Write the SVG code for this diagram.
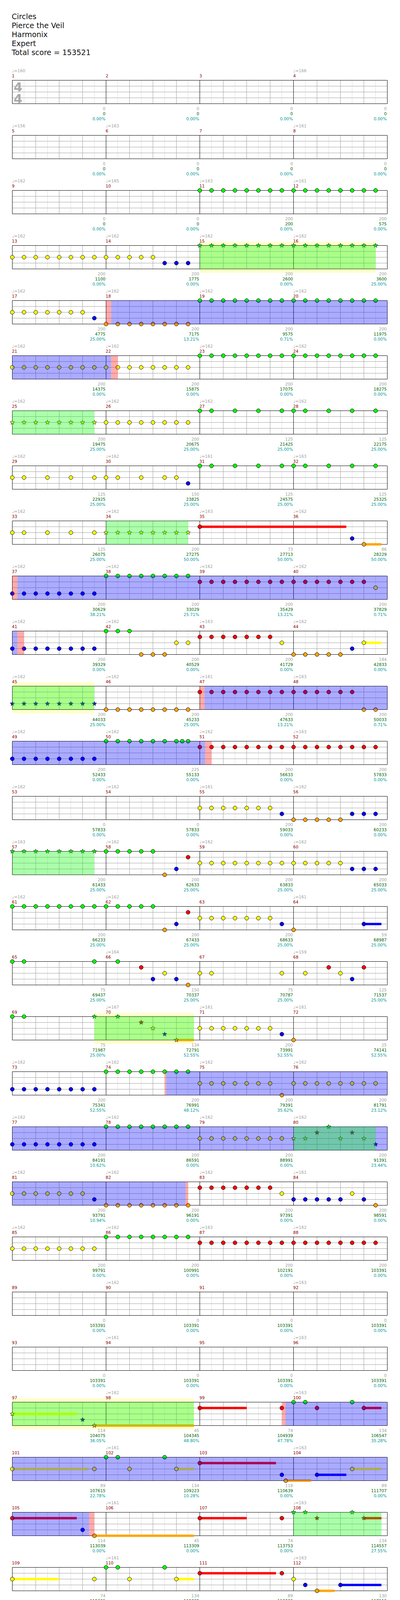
<svg xmlns="http://www.w3.org/2000/svg" xmlns:xlink="http://www.w3.org/1999/xlink" width="1024" height="5563" viewBox="0 0 1024 5563">
<style>
.t{font:19px "DejaVu Sans",sans-serif;fill:#111}
.ts{font:bold 32px "DejaVu Sans",sans-serif;fill:#aaa}
.tp{font:10.5px "DejaVu Sans",sans-serif;fill:#a0a0a0}
.mn{font:10.5px "DejaVu Sans",sans-serif;fill:#8b0000}
.s{font:10.5px "DejaVu Sans",sans-serif;text-anchor:end}
.sa{fill:#a0a0a0}.sb{fill:#006400}.sc{fill:#009999}
.hb{stroke:#dcdcdc;fill:none}
.bt{stroke:#a0a0a0;fill:none}
.ms{stroke:#000;fill:none}
.G{fill:#00ff00}.R{fill:#ff0000}.Y{fill:#ffff00}.B{fill:#0000ff}.O{fill:#ffa500}
.ob{fill:#0000ff;fill-opacity:.33}.og{fill:#00ff00;fill-opacity:.33}.op{fill:#ff0000;fill-opacity:.33}
.yb{fill:#ffffcc}
</style>
<defs>
<circle id="n" r="5" stroke="#000" stroke-width="1"/>
<g id="n2"><use href="#n"/><use href="#n" x="30"/></g>
<g id="n4"><use href="#n2"/><use href="#n2" x="60"/></g>
<g id="n8"><use href="#n4"/><use href="#n4" x="120"/></g>
<g id="n16"><use href="#n8"/><use href="#n8" x="240"/></g>
<path id="s" d="M0,-6L1.41,-1.94L5.71,-1.85L2.28,.74L3.53,4.85L0,2.4L-3.53,4.85L-2.28,.74L-5.71,-1.85L-1.41,-1.94Z" stroke="#000" stroke-width=".8"/>
<g id="s2"><use href="#s"/><use href="#s" x="30"/></g>
<g id="s4"><use href="#s2"/><use href="#s2" x="60"/></g>
<g id="s8"><use href="#s4"/><use href="#s4" x="120"/></g>
<g id="s16"><use href="#s8"/><use href="#s8" x="240"/></g>
<g id="st4">
<path class="hb" d="M61.5 0v60M121.5 0v60M181.5 0v60M241.5 0v60M301.5 0v60M361.5 0v60M421.5 0v60M481.5 0v60M541.5 0v60M601.5 0v60M661.5 0v60M721.5 0v60M781.5 0v60M841.5 0v60M901.5 0v60M961.5 0v60"/>
<path class="bt" d="M31.5 15h960M31.5 30h960M31.5 45h960M91.5 0v60M151.5 0v60M211.5 0v60M331.5 0v60M391.5 0v60M451.5 0v60M571.5 0v60M631.5 0v60M691.5 0v60M811.5 0v60M871.5 0v60M931.5 0v60"/>
<path class="ms" d="M271.5 0v60M511.5 0v60M751.5 0v60M31.5 0h960v60h-960z"/>
</g>
<g id="st3">
<path class="hb" d="M61.5 0v60M121.5 0v60M181.5 0v60M241.5 0v60M301.5 0v60M361.5 0v60M421.5 0v60M481.5 0v60M541.5 0v60M601.5 0v60M661.5 0v60M721.5 0v60"/>
<path class="bt" d="M31.5 15h720M31.5 30h720M31.5 45h720M91.5 0v60M151.5 0v60M211.5 0v60M331.5 0v60M391.5 0v60M451.5 0v60M571.5 0v60M631.5 0v60M691.5 0v60"/>
<path class="ms" d="M271.5 0v60M511.5 0v60M31.5 0h720v60h-720z"/>
</g>
</defs>
<rect width="1024" height="5563" fill="#fff"/>
<g id="title" class="t"><text x="30" y="49">Circles</text><text x="30" y="72">Pierce the Veil</text><text x="30" y="95">Harmonix</text><text x="30" y="118">Expert</text><text x="30" y="141">Total score = 153521</text></g>

<g id="row01" transform="translate(0,205.5)">
<use href="#st4"/>
<text class="ts" x="35" y="28">4</text><text class="ts" x="35" y="58">4</text>
<text class="tp" x="31" y="-20.5">♩=160</text><text class="tp" x="751" y="-20.5">♩=166</text>
<text class="mn" x="30.5" y="-8">1</text><text class="mn" x="270.5" y="-8">2</text><text class="mn" x="510.5" y="-8">3</text><text class="mn" x="750.5" y="-8">4</text>
<text class="s" y="76"><tspan class="sa" x="270">0</tspan><tspan class="sb" x="270" dy="13.5">0</tspan><tspan class="sc" x="270" dy="13">0.00%</tspan></text>
<text class="s" y="76"><tspan class="sa" x="510">0</tspan><tspan class="sb" x="510" dy="13.5">0</tspan><tspan class="sc" x="510" dy="13">0.00%</tspan></text>
<text class="s" y="76"><tspan class="sa" x="750">0</tspan><tspan class="sb" x="750" dy="13.5">0</tspan><tspan class="sc" x="750" dy="13">0.00%</tspan></text>
<text class="s" y="76"><tspan class="sa" x="990">0</tspan><tspan class="sb" x="990" dy="13.5">0</tspan><tspan class="sc" x="990" dy="13">0.00%</tspan></text>
</g>

<g id="row02" transform="translate(0,346.5)">
<use href="#st4"/>
<text class="tp" x="31" y="-20.5">♩=156</text><text class="tp" x="271" y="-20.5">♩=163</text><text class="tp" x="751" y="-20.5">♩=161</text>
<text class="mn" x="30.5" y="-8">5</text><text class="mn" x="270.5" y="-8">6</text><text class="mn" x="510.5" y="-8">7</text><text class="mn" x="750.5" y="-8">8</text>
<text class="s" y="76"><tspan class="sa" x="270">0</tspan><tspan class="sb" x="270" dy="13.5">0</tspan><tspan class="sc" x="270" dy="13">0.00%</tspan></text>
<text class="s" y="76"><tspan class="sa" x="510">0</tspan><tspan class="sb" x="510" dy="13.5">0</tspan><tspan class="sc" x="510" dy="13">0.00%</tspan></text>
<text class="s" y="76"><tspan class="sa" x="750">0</tspan><tspan class="sb" x="750" dy="13.5">0</tspan><tspan class="sc" x="750" dy="13">0.00%</tspan></text>
<text class="s" y="76"><tspan class="sa" x="990">0</tspan><tspan class="sb" x="990" dy="13.5">0</tspan><tspan class="sc" x="990" dy="13">0.00%</tspan></text>
</g>

<g id="row03" transform="translate(0,487.5)">
<use href="#st4"/>
<use href="#n16" class="G" x="511.5"/>
<text class="tp" x="31" y="-20.5">♩=162</text><text class="tp" x="271" y="-20.5">♩=165</text><text class="tp" x="511" y="-20.5">♩=163</text><text class="tp" x="751" y="-20.5">♩=161</text>
<text class="mn" x="30.5" y="-8">9</text><text class="mn" x="270.5" y="-8">10</text><text class="mn" x="510.5" y="-8">11</text><text class="mn" x="750.5" y="-8">12</text>
<text class="s" y="76"><tspan class="sa" x="270">0</tspan><tspan class="sb" x="270" dy="13.5">0</tspan><tspan class="sc" x="270" dy="13">0.00%</tspan></text>
<text class="s" y="76"><tspan class="sa" x="510">0</tspan><tspan class="sb" x="510" dy="13.5">0</tspan><tspan class="sc" x="510" dy="13">0.00%</tspan></text>
<text class="s" y="76"><tspan class="sa" x="750">200</tspan><tspan class="sb" x="750" dy="13.5">200</tspan><tspan class="sc" x="750" dy="13">0.00%</tspan></text>
<text class="s" y="76"><tspan class="sa" x="990">200</tspan><tspan class="sb" x="990" dy="13.5">575</tspan><tspan class="sc" x="990" dy="13">0.00%</tspan></text>
</g>

<g id="row04" transform="translate(0,628.5)">
<rect class="yb" x="511.5" y="-10" width="450" height="80"/>
<use href="#st4"/>
<use href="#n8" class="Y" x="31.5" y="30"/><use href="#n4" class="Y" x="271.5" y="30"/><use href="#n" class="Y" x="391.5" y="30"/>
<use href="#n2" class="B" x="421.5" y="45"/><use href="#n" class="B" x="481.5" y="45"/>
<use href="#s16" class="G" x="511.5"/>
<rect class="og" x="511.5" width="450" height="60"/>
<text class="tp" x="31" y="-20.5">♩=162</text><text class="tp" x="271" y="-20.5">♩=162</text><text class="tp" x="511" y="-20.5">♩=162</text><text class="tp" x="751" y="-20.5">♩=162</text>
<text class="mn" x="30.5" y="-8">13</text><text class="mn" x="270.5" y="-8">14</text><text class="mn" x="510.5" y="-8">15</text><text class="mn" x="750.5" y="-8">16</text>
<text class="s" y="76"><tspan class="sa" x="270">200</tspan><tspan class="sb" x="270" dy="13.5">1100</tspan><tspan class="sc" x="270" dy="13">0.00%</tspan></text>
<text class="s" y="76"><tspan class="sa" x="510">200</tspan><tspan class="sb" x="510" dy="13.5">1775</tspan><tspan class="sc" x="510" dy="13">0.00%</tspan></text>
<text class="s" y="76"><tspan class="sa" x="750">200</tspan><tspan class="sb" x="750" dy="13.5">2600</tspan><tspan class="sc" x="750" dy="13">0.00%</tspan></text>
<text class="s" y="76"><tspan class="sa" x="990">200</tspan><tspan class="sb" x="990" dy="13.5">3600</tspan><tspan class="sc" x="990" dy="13">25.00%</tspan></text>
</g>

<g id="row05" transform="translate(0,769.5)">
<use href="#st4"/>
<use href="#n4" class="Y" x="31.5" y="30"/><use href="#n2" class="Y" x="151.5" y="30"/><use href="#n" class="Y" x="211.5" y="30"/>
<use href="#n" class="B" x="241.5" y="45"/>
<use href="#n8" class="O" x="271.5" y="60"/>
<use href="#n16" class="G" x="511.5"/>
<rect class="op" x="271.5" width="13" height="60"/><rect class="ob" x="284.5" width="707" height="60"/>
<text class="tp" x="31" y="-20.5">♩=162</text><text class="tp" x="271" y="-20.5">♩=162</text><text class="tp" x="511" y="-20.5">♩=162</text><text class="tp" x="751" y="-20.5">♩=162</text>
<text class="mn" x="30.5" y="-8">17</text><text class="mn" x="270.5" y="-8">18</text><text class="mn" x="510.5" y="-8">19</text><text class="mn" x="750.5" y="-8">20</text>
<text class="s" y="76"><tspan class="sa" x="270">200</tspan><tspan class="sb" x="270" dy="13.5">4775</tspan><tspan class="sc" x="270" dy="13">25.00%</tspan></text>
<text class="s" y="76"><tspan class="sa" x="510">200</tspan><tspan class="sb" x="510" dy="13.5">7175</tspan><tspan class="sc" x="510" dy="13">13.21%</tspan></text>
<text class="s" y="76"><tspan class="sa" x="750">200</tspan><tspan class="sb" x="750" dy="13.5">9575</tspan><tspan class="sc" x="750" dy="13">0.71%</tspan></text>
<text class="s" y="76"><tspan class="sa" x="990">200</tspan><tspan class="sb" x="990" dy="13.5">11975</tspan><tspan class="sc" x="990" dy="13">0.00%</tspan></text>
</g>

<g id="row06" transform="translate(0,910.5)">
<use href="#st4"/>
<use href="#n16" class="Y" x="31.5" y="30"/><use href="#n16" class="G" x="511.5"/>
<rect class="ob" x="31.5" width="253" height="60"/><rect class="op" x="284.5" width="17" height="60"/>
<text class="tp" x="31" y="-20.5">♩=162</text><text class="tp" x="271" y="-20.5">♩=162</text><text class="tp" x="511" y="-20.5">♩=162</text><text class="tp" x="751" y="-20.5">♩=162</text>
<text class="mn" x="30.5" y="-8">21</text><text class="mn" x="270.5" y="-8">22</text><text class="mn" x="510.5" y="-8">23</text><text class="mn" x="750.5" y="-8">24</text>
<text class="s" y="76"><tspan class="sa" x="270">200</tspan><tspan class="sb" x="270" dy="13.5">14375</tspan><tspan class="sc" x="270" dy="13">0.00%</tspan></text>
<text class="s" y="76"><tspan class="sa" x="510">200</tspan><tspan class="sb" x="510" dy="13.5">15875</tspan><tspan class="sc" x="510" dy="13">0.00%</tspan></text>
<text class="s" y="76"><tspan class="sa" x="750">200</tspan><tspan class="sb" x="750" dy="13.5">17075</tspan><tspan class="sc" x="750" dy="13">0.00%</tspan></text>
<text class="s" y="76"><tspan class="sa" x="990">200</tspan><tspan class="sb" x="990" dy="13.5">18275</tspan><tspan class="sc" x="990" dy="13">0.00%</tspan></text>
</g>

<g id="row07" transform="translate(0,1051.5)">
<use href="#st4"/>
<use href="#s8" class="Y" x="31.5" y="30"/><use href="#n8" class="Y" x="271.5" y="30"/>
<use href="#n2" class="G" x="511.5"/><use href="#n" class="G" x="601.5"/><use href="#n" class="G" x="661.5"/><use href="#n2" class="G" x="721.5"/><use href="#n" class="G" x="781.5"/><use href="#n" class="G" x="841.5"/><use href="#n" class="G" x="901.5"/><use href="#n" class="G" x="961.5"/>
<rect class="og" x="31.5" width="210" height="60"/>
<text class="tp" x="31" y="-20.5">♩=162</text><text class="tp" x="271" y="-20.5">♩=162</text><text class="tp" x="511" y="-20.5">♩=162</text><text class="tp" x="751" y="-20.5">♩=162</text>
<text class="mn" x="30.5" y="-8">25</text><text class="mn" x="270.5" y="-8">26</text><text class="mn" x="510.5" y="-8">27</text><text class="mn" x="750.5" y="-8">28</text>
<text class="s" y="76"><tspan class="sa" x="270">200</tspan><tspan class="sb" x="270" dy="13.5">19475</tspan><tspan class="sc" x="270" dy="13">25.00%</tspan></text>
<text class="s" y="76"><tspan class="sa" x="510">200</tspan><tspan class="sb" x="510" dy="13.5">20675</tspan><tspan class="sc" x="510" dy="13">25.00%</tspan></text>
<text class="s" y="76"><tspan class="sa" x="750">125</tspan><tspan class="sb" x="750" dy="13.5">21425</tspan><tspan class="sc" x="750" dy="13">25.00%</tspan></text>
<text class="s" y="76"><tspan class="sa" x="990">125</tspan><tspan class="sb" x="990" dy="13.5">22175</tspan><tspan class="sc" x="990" dy="13">25.00%</tspan></text>
</g>

<g id="row08" transform="translate(0,1192.5)">
<use href="#st4"/>
<use href="#n2" class="Y" x="31.5" y="30"/><use href="#n" class="Y" x="121.5" y="30"/><use href="#n" class="Y" x="181.5" y="30"/><use href="#n2" class="Y" x="241.5" y="30"/><use href="#n" class="Y" x="301.5" y="30"/><use href="#n" class="Y" x="361.5" y="30"/><use href="#n2" class="Y" x="421.5" y="30"/>
<use href="#n" class="B" x="481.5" y="45"/>
<use href="#n2" class="G" x="511.5"/><use href="#n" class="G" x="601.5"/><use href="#n" class="G" x="661.5"/><use href="#n2" class="G" x="721.5"/><use href="#n" class="G" x="781.5"/><use href="#n" class="G" x="841.5"/><use href="#n" class="G" x="901.5"/><use href="#n" class="G" x="961.5"/>
<text class="tp" x="31" y="-20.5">♩=162</text><text class="tp" x="271" y="-20.5">♩=162</text><text class="tp" x="511" y="-20.5">♩=161</text><text class="tp" x="751" y="-20.5">♩=163</text>
<text class="mn" x="30.5" y="-8">29</text><text class="mn" x="270.5" y="-8">30</text><text class="mn" x="510.5" y="-8">31</text><text class="mn" x="750.5" y="-8">32</text>
<text class="s" y="76"><tspan class="sa" x="270">125</tspan><tspan class="sb" x="270" dy="13.5">22925</tspan><tspan class="sc" x="270" dy="13">25.00%</tspan></text>
<text class="s" y="76"><tspan class="sa" x="510">150</tspan><tspan class="sb" x="510" dy="13.5">23825</tspan><tspan class="sc" x="510" dy="13">25.00%</tspan></text>
<text class="s" y="76"><tspan class="sa" x="750">125</tspan><tspan class="sb" x="750" dy="13.5">24575</tspan><tspan class="sc" x="750" dy="13">25.00%</tspan></text>
<text class="s" y="76"><tspan class="sa" x="990">125</tspan><tspan class="sb" x="990" dy="13.5">25325</tspan><tspan class="sc" x="990" dy="13">25.00%</tspan></text>
</g>

<g id="row09" transform="translate(0,1333.5)">
<use href="#st4"/>
<use href="#n2" class="Y" x="31.5" y="30"/><use href="#n" class="Y" x="121.5" y="30"/><use href="#n" class="Y" x="181.5" y="30"/><use href="#n" class="Y" x="241.5" y="30"/>
<use href="#s8" class="Y" x="271.5" y="30"/>
<rect class="R" x="511.5" y="12" width="375" height="6"/><use href="#n" class="R" x="511.5" y="15"/>
<use href="#n" class="B" x="901.5" y="45"/>
<rect class="O" x="931.5" y="57" width="45" height="6"/><use href="#n" class="O" x="931.5" y="60"/>
<rect class="og" x="271.5" width="210" height="60"/>
<text class="tp" x="31" y="-20.5">♩=162</text><text class="tp" x="271" y="-20.5">♩=162</text><text class="tp" x="511" y="-20.5">♩=163</text><text class="tp" x="751" y="-20.5">♩=162</text>
<text class="mn" x="30.5" y="-8">33</text><text class="mn" x="270.5" y="-8">34</text><text class="mn" x="510.5" y="-8">35</text><text class="mn" x="750.5" y="-8">36</text>
<text class="s" y="76"><tspan class="sa" x="270">125</tspan><tspan class="sb" x="270" dy="13.5">26075</tspan><tspan class="sc" x="270" dy="13">25.00%</tspan></text>
<text class="s" y="76"><tspan class="sa" x="510">200</tspan><tspan class="sb" x="510" dy="13.5">27275</tspan><tspan class="sc" x="510" dy="13">50.00%</tspan></text>
<text class="s" y="76"><tspan class="sa" x="750">73</tspan><tspan class="sb" x="750" dy="13.5">27713</tspan><tspan class="sc" x="750" dy="13">50.00%</tspan></text>
<text class="s" y="76"><tspan class="sa" x="990">86</tspan><tspan class="sb" x="990" dy="13.5">28229</tspan><tspan class="sc" x="990" dy="13">50.00%</tspan></text>
</g>

<g id="row10" transform="translate(0,1474.5)">
<use href="#st4"/>
<use href="#n8" class="B" x="31.5" y="45"/><use href="#n8" class="G" x="271.5"/>
<use href="#n8" class="R" x="511.5" y="15"/><use href="#n4" class="R" x="751.5" y="15"/><use href="#n2" class="R" x="871.5" y="15"/><use href="#n" class="R" x="931.5" y="15"/>
<use href="#n" class="Y" x="961.5" y="30"/>
<rect class="op" x="31.5" width="13" height="60"/><rect class="ob" x="44.5" width="947" height="60"/>
<text class="tp" x="31" y="-20.5">♩=162</text><text class="tp" x="271" y="-20.5">♩=162</text><text class="tp" x="511" y="-20.5">♩=162</text><text class="tp" x="751" y="-20.5">♩=162</text>
<text class="mn" x="30.5" y="-8">37</text><text class="mn" x="270.5" y="-8">38</text><text class="mn" x="510.5" y="-8">39</text><text class="mn" x="750.5" y="-8">40</text>
<text class="s" y="76"><tspan class="sa" x="270">200</tspan><tspan class="sb" x="270" dy="13.5">30629</tspan><tspan class="sc" x="270" dy="13">38.21%</tspan></text>
<text class="s" y="76"><tspan class="sa" x="510">200</tspan><tspan class="sb" x="510" dy="13.5">33029</tspan><tspan class="sc" x="510" dy="13">25.71%</tspan></text>
<text class="s" y="76"><tspan class="sa" x="750">200</tspan><tspan class="sb" x="750" dy="13.5">35429</tspan><tspan class="sc" x="750" dy="13">13.21%</tspan></text>
<text class="s" y="76"><tspan class="sa" x="990">200</tspan><tspan class="sb" x="990" dy="13.5">37829</tspan><tspan class="sc" x="990" dy="13">0.71%</tspan></text>
</g>

<g id="row11" transform="translate(0,1615.5)">
<use href="#st4"/>
<use href="#n8" class="B" x="31.5" y="45"/>
<use href="#n2" class="G" x="271.5"/><use href="#n" class="G" x="331.5"/>
<use href="#n2" class="O" x="361.5" y="60"/><use href="#n" class="O" x="421.5" y="60"/>
<use href="#n2" class="Y" x="451.5" y="30"/>
<use href="#n4" class="R" x="511.5" y="15"/><use href="#n2" class="R" x="631.5" y="15"/><use href="#n" class="R" x="691.5" y="15"/>
<use href="#n" class="Y" x="721.5" y="30"/>
<use href="#n4" class="O" x="751.5" y="60"/><use href="#n" class="O" x="871.5" y="60"/>
<use href="#n" class="B" x="901.5" y="45"/>
<rect class="Y" x="931.5" y="27" width="45" height="6"/><use href="#n" class="Y" x="931.5" y="30"/>
<rect class="ob" x="31.5" width="13" height="60"/><rect class="op" x="44.5" width="17" height="60"/>
<text class="tp" x="31" y="-20.5">♩=162</text><text class="tp" x="271" y="-20.5">♩=162</text><text class="tp" x="511" y="-20.5">♩=163</text><text class="tp" x="751" y="-20.5">♩=162</text>
<text class="mn" x="30.5" y="-8">41</text><text class="mn" x="270.5" y="-8">42</text><text class="mn" x="510.5" y="-8">43</text><text class="mn" x="750.5" y="-8">44</text>
<text class="s" y="76"><tspan class="sa" x="270">200</tspan><tspan class="sb" x="270" dy="13.5">39329</tspan><tspan class="sc" x="270" dy="13">0.00%</tspan></text>
<text class="s" y="76"><tspan class="sa" x="510">200</tspan><tspan class="sb" x="510" dy="13.5">40529</tspan><tspan class="sc" x="510" dy="13">0.00%</tspan></text>
<text class="s" y="76"><tspan class="sa" x="750">200</tspan><tspan class="sb" x="750" dy="13.5">41729</tspan><tspan class="sc" x="750" dy="13">0.00%</tspan></text>
<text class="s" y="76"><tspan class="sa" x="990">184</tspan><tspan class="sb" x="990" dy="13.5">42833</tspan><tspan class="sc" x="990" dy="13">0.00%</tspan></text>
</g>

<g id="row12" transform="translate(0,1756.5)">
<rect class="yb" x="31.5" y="-10" width="210" height="80"/>
<use href="#st4"/>
<use href="#s8" class="B" x="31.5" y="45"/><use href="#n8" class="O" x="271.5" y="60"/>
<use href="#n8" class="R" x="511.5" y="15"/><use href="#n4" class="R" x="751.5" y="15"/><use href="#n2" class="R" x="871.5" y="15"/>
<use href="#n2" class="O" x="931.5" y="60"/>
<rect class="og" x="31.5" width="210" height="60"/><rect class="op" x="511.5" width="12" height="60"/><rect class="ob" x="523.5" width="468" height="60"/>
<text class="tp" x="31" y="-20.5">♩=162</text><text class="tp" x="271" y="-20.5">♩=162</text><text class="tp" x="511" y="-20.5">♩=161</text><text class="tp" x="751" y="-20.5">♩=163</text>
<text class="mn" x="30.5" y="-8">45</text><text class="mn" x="270.5" y="-8">46</text><text class="mn" x="510.5" y="-8">47</text><text class="mn" x="750.5" y="-8">48</text>
<text class="s" y="76"><tspan class="sa" x="270">200</tspan><tspan class="sb" x="270" dy="13.5">44033</tspan><tspan class="sc" x="270" dy="13">25.00%</tspan></text>
<text class="s" y="76"><tspan class="sa" x="510">200</tspan><tspan class="sb" x="510" dy="13.5">45233</tspan><tspan class="sc" x="510" dy="13">25.00%</tspan></text>
<text class="s" y="76"><tspan class="sa" x="750">200</tspan><tspan class="sb" x="750" dy="13.5">47633</tspan><tspan class="sc" x="750" dy="13">13.21%</tspan></text>
<text class="s" y="76"><tspan class="sa" x="990">200</tspan><tspan class="sb" x="990" dy="13.5">50033</tspan><tspan class="sc" x="990" dy="13">0.71%</tspan></text>
</g>

<g id="row13" transform="translate(0,1897.5)">
<use href="#st4"/>
<use href="#n8" class="B" x="31.5" y="45"/>
<use href="#n4" class="G" x="271.5"/><use href="#n2" class="G" x="391.5"/><use href="#n" class="G" x="451.5"/><use href="#n" class="G" x="466.5"/><use href="#n" class="G" x="481.5"/>
<use href="#n16" class="R" x="511.5" y="15"/>
<rect class="ob" x="31.5" width="493.5" height="60"/><rect class="op" x="525" width="16.5" height="60"/>
<text class="tp" x="31" y="-20.5">♩=162</text><text class="tp" x="271" y="-20.5">♩=162</text><text class="tp" x="511" y="-20.5">♩=162</text><text class="tp" x="751" y="-20.5">♩=163</text>
<text class="mn" x="30.5" y="-8">49</text><text class="mn" x="270.5" y="-8">50</text><text class="mn" x="510.5" y="-8">51</text><text class="mn" x="750.5" y="-8">52</text>
<text class="s" y="76"><tspan class="sa" x="270">200</tspan><tspan class="sb" x="270" dy="13.5">52433</tspan><tspan class="sc" x="270" dy="13">0.00%</tspan></text>
<text class="s" y="76"><tspan class="sa" x="510">225</tspan><tspan class="sb" x="510" dy="13.5">55133</tspan><tspan class="sc" x="510" dy="13">0.00%</tspan></text>
<text class="s" y="76"><tspan class="sa" x="750">200</tspan><tspan class="sb" x="750" dy="13.5">56633</tspan><tspan class="sc" x="750" dy="13">0.00%</tspan></text>
<text class="s" y="76"><tspan class="sa" x="990">200</tspan><tspan class="sb" x="990" dy="13.5">57833</tspan><tspan class="sc" x="990" dy="13">0.00%</tspan></text>
</g>

<g id="row14" transform="translate(0,2038.5)">
<use href="#st4"/>
<use href="#n4" class="Y" x="511.5" y="30"/><use href="#n2" class="Y" x="631.5" y="30"/><use href="#n" class="Y" x="691.5" y="30"/>
<use href="#n" class="B" x="721.5" y="45"/>
<use href="#n4" class="O" x="751.5" y="60"/><use href="#n" class="O" x="871.5" y="60"/>
<use href="#n2" class="B" x="901.5" y="45"/><use href="#n" class="B" x="961.5" y="45"/>
<text class="tp" x="31" y="-20.5">♩=162</text><text class="tp" x="271" y="-20.5">♩=162</text><text class="tp" x="511" y="-20.5">♩=161</text><text class="tp" x="751" y="-20.5">♩=162</text>
<text class="mn" x="30.5" y="-8">53</text><text class="mn" x="270.5" y="-8">54</text><text class="mn" x="510.5" y="-8">55</text><text class="mn" x="750.5" y="-8">56</text>
<text class="s" y="76"><tspan class="sa" x="270">0</tspan><tspan class="sb" x="270" dy="13.5">57833</tspan><tspan class="sc" x="270" dy="13">0.00%</tspan></text>
<text class="s" y="76"><tspan class="sa" x="510">0</tspan><tspan class="sb" x="510" dy="13.5">57833</tspan><tspan class="sc" x="510" dy="13">0.00%</tspan></text>
<text class="s" y="76"><tspan class="sa" x="750">200</tspan><tspan class="sb" x="750" dy="13.5">59033</tspan><tspan class="sc" x="750" dy="13">0.00%</tspan></text>
<text class="s" y="76"><tspan class="sa" x="990">200</tspan><tspan class="sb" x="990" dy="13.5">60233</tspan><tspan class="sc" x="990" dy="13">0.00%</tspan></text>
</g>

<g id="row15" transform="translate(0,2179.5)">
<use href="#st4"/>
<use href="#s8" class="G" x="31.5"/>
<use href="#n4" class="G" x="271.5"/><use href="#n" class="G" x="391.5"/>
<use href="#n" class="O" x="421.5" y="60"/><use href="#n" class="B" x="451.5" y="45"/><use href="#n" class="R" x="481.5" y="15"/>
<use href="#n8" class="Y" x="511.5" y="30"/><use href="#n4" class="Y" x="751.5" y="30"/><use href="#n" class="Y" x="871.5" y="30"/>
<use href="#n2" class="B" x="901.5" y="45"/><use href="#n" class="B" x="961.5" y="45"/>
<rect class="og" x="31.5" width="210" height="60"/>
<text class="tp" x="31" y="-20.5">♩=163</text><text class="tp" x="271" y="-20.5">♩=162</text><text class="tp" x="511" y="-20.5">♩=162</text><text class="tp" x="751" y="-20.5">♩=162</text>
<text class="mn" x="30.5" y="-8">57</text><text class="mn" x="270.5" y="-8">58</text><text class="mn" x="510.5" y="-8">59</text><text class="mn" x="750.5" y="-8">60</text>
<text class="s" y="76"><tspan class="sa" x="270">200</tspan><tspan class="sb" x="270" dy="13.5">61433</tspan><tspan class="sc" x="270" dy="13">25.00%</tspan></text>
<text class="s" y="76"><tspan class="sa" x="510">200</tspan><tspan class="sb" x="510" dy="13.5">62633</tspan><tspan class="sc" x="510" dy="13">25.00%</tspan></text>
<text class="s" y="76"><tspan class="sa" x="750">200</tspan><tspan class="sb" x="750" dy="13.5">63833</tspan><tspan class="sc" x="750" dy="13">25.00%</tspan></text>
<text class="s" y="76"><tspan class="sa" x="990">200</tspan><tspan class="sb" x="990" dy="13.5">65033</tspan><tspan class="sc" x="990" dy="13">25.00%</tspan></text>
</g>

<g id="row16" transform="translate(0,2320.5)">
<use href="#st4"/>
<use href="#n8" class="G" x="31.5"/><use href="#n4" class="G" x="271.5"/><use href="#n" class="G" x="391.5"/>
<use href="#n" class="O" x="421.5" y="60"/><use href="#n" class="B" x="451.5" y="45"/><use href="#n" class="R" x="481.5" y="15"/>
<use href="#n4" class="Y" x="511.5" y="30"/><use href="#n2" class="Y" x="631.5" y="30"/><use href="#n" class="Y" x="691.5" y="30"/>
<use href="#n" class="B" x="721.5" y="45"/><use href="#n" class="O" x="751.5" y="60"/>
<rect class="B" x="931.5" y="42" width="45" height="6"/><use href="#n" class="B" x="931.5" y="45"/>
<text class="tp" x="31" y="-20.5">♩=162</text><text class="tp" x="271" y="-20.5">♩=162</text><text class="tp" x="751" y="-20.5">♩=161</text>
<text class="mn" x="30.5" y="-8">61</text><text class="mn" x="270.5" y="-8">62</text><text class="mn" x="510.5" y="-8">63</text><text class="mn" x="750.5" y="-8">64</text>
<text class="s" y="76"><tspan class="sa" x="270">200</tspan><tspan class="sb" x="270" dy="13.5">66233</tspan><tspan class="sc" x="270" dy="13">25.00%</tspan></text>
<text class="s" y="76"><tspan class="sa" x="510">200</tspan><tspan class="sb" x="510" dy="13.5">67433</tspan><tspan class="sc" x="510" dy="13">25.00%</tspan></text>
<text class="s" y="76"><tspan class="sa" x="750">200</tspan><tspan class="sb" x="750" dy="13.5">68633</tspan><tspan class="sc" x="750" dy="13">25.00%</tspan></text>
<text class="s" y="76"><tspan class="sa" x="990">59</tspan><tspan class="sb" x="990" dy="13.5">68987</tspan><tspan class="sc" x="990" dy="13">25.00%</tspan></text>
</g>

<g id="row17" transform="translate(0,2461.5)">
<use href="#st4"/>
<use href="#n2" class="G" x="31.5"/><use href="#n" class="G" x="241.5"/><use href="#n" class="G" x="301.5"/>
<use href="#n" class="R" x="361.5" y="15"/><use href="#n" class="B" x="391.5" y="45"/><use href="#n" class="Y" x="421.5" y="30"/><use href="#n" class="B" x="451.5" y="45"/><use href="#n" class="O" x="481.5" y="60"/>
<use href="#n2" class="Y" x="511.5" y="30"/><use href="#n" class="Y" x="721.5" y="30"/><use href="#n" class="Y" x="781.5" y="30"/>
<use href="#n" class="R" x="841.5" y="15"/><use href="#n" class="Y" x="871.5" y="30"/><use href="#n" class="B" x="901.5" y="45"/><use href="#n" class="R" x="931.5" y="15"/>
<text class="tp" x="271" y="-20.5">♩=164</text><text class="tp" x="751" y="-20.5">♩=159</text>
<text class="mn" x="30.5" y="-8">65</text><text class="mn" x="270.5" y="-8">66</text><text class="mn" x="510.5" y="-8">67</text><text class="mn" x="750.5" y="-8">68</text>
<text class="s" y="76"><tspan class="sa" x="270">75</tspan><tspan class="sb" x="270" dy="13.5">69437</tspan><tspan class="sc" x="270" dy="13">25.00%</tspan></text>
<text class="s" y="76"><tspan class="sa" x="510">150</tspan><tspan class="sb" x="510" dy="13.5">70337</tspan><tspan class="sc" x="510" dy="13">25.00%</tspan></text>
<text class="s" y="76"><tspan class="sa" x="750">75</tspan><tspan class="sb" x="750" dy="13.5">70787</tspan><tspan class="sc" x="750" dy="13">25.00%</tspan></text>
<text class="s" y="76"><tspan class="sa" x="990">125</tspan><tspan class="sb" x="990" dy="13.5">71537</tspan><tspan class="sc" x="990" dy="13">25.00%</tspan></text>
</g>

<g id="row18" transform="translate(0,2602.5)">
<rect class="yb" x="241.5" y="-10" width="255" height="80"/>
<use href="#st4"/>
<use href="#n2" class="G" x="31.5"/>
<use href="#s" class="G" x="241.5"/><use href="#s" class="G" x="301.5"/><use href="#s" class="R" x="361.5" y="15"/><use href="#s" class="Y" x="391.5" y="30"/><use href="#s" class="B" x="421.5" y="45"/>
<rect class="O" x="451.5" y="57" width="45" height="6"/><use href="#s" class="O" x="451.5" y="60"/>
<use href="#n4" class="Y" x="511.5" y="30"/><use href="#n2" class="Y" x="631.5" y="30"/><use href="#n" class="Y" x="691.5" y="30"/>
<use href="#n" class="B" x="721.5" y="45"/><use href="#n" class="O" x="751.5" y="60"/>
<rect class="og" x="241.5" width="255" height="60"/>
<text class="tp" x="271" y="-20.5">♩=167</text><text class="tp" x="511" y="-20.5">♩=161</text><text class="tp" x="751" y="-20.5">♩=161</text>
<text class="mn" x="30.5" y="-8">69</text><text class="mn" x="270.5" y="-8">70</text><text class="mn" x="510.5" y="-8">71</text><text class="mn" x="750.5" y="-8">72</text>
<text class="s" y="76"><tspan class="sa" x="270">75</tspan><tspan class="sb" x="270" dy="13.5">71987</tspan><tspan class="sc" x="270" dy="13">25.00%</tspan></text>
<text class="s" y="76"><tspan class="sa" x="510">134</tspan><tspan class="sb" x="510" dy="13.5">72791</tspan><tspan class="sc" x="510" dy="13">52.55%</tspan></text>
<text class="s" y="76"><tspan class="sa" x="750">200</tspan><tspan class="sb" x="750" dy="13.5">73991</tspan><tspan class="sc" x="750" dy="13">52.55%</tspan></text>
<text class="s" y="76"><tspan class="sa" x="990">25</tspan><tspan class="sb" x="990" dy="13.5">74141</tspan><tspan class="sc" x="990" dy="13">52.55%</tspan></text>
</g>

<g id="row19" transform="translate(0,2743.5)">
<use href="#st4"/>
<use href="#n8" class="B" x="31.5" y="45"/><use href="#n8" class="G" x="271.5"/>
<use href="#n4" class="Y" x="511.5" y="30"/><use href="#n2" class="Y" x="631.5" y="30"/><use href="#n" class="Y" x="691.5" y="30"/>
<use href="#n" class="O" x="721.5" y="60"/><use href="#n8" class="Y" x="751.5" y="30"/>
<rect class="op" x="421.5" width="4" height="60"/><rect class="ob" x="425.5" width="566" height="60"/>
<text class="tp" x="31" y="-20.5">♩=162</text><text class="tp" x="271" y="-20.5">♩=162</text><text class="tp" x="511" y="-20.5">♩=162</text><text class="tp" x="751" y="-20.5">♩=162</text>
<text class="mn" x="30.5" y="-8">73</text><text class="mn" x="270.5" y="-8">74</text><text class="mn" x="510.5" y="-8">75</text><text class="mn" x="750.5" y="-8">76</text>
<text class="s" y="76"><tspan class="sa" x="270">200</tspan><tspan class="sb" x="270" dy="13.5">75341</tspan><tspan class="sc" x="270" dy="13">52.55%</tspan></text>
<text class="s" y="76"><tspan class="sa" x="510">200</tspan><tspan class="sb" x="510" dy="13.5">76991</tspan><tspan class="sc" x="510" dy="13">48.12%</tspan></text>
<text class="s" y="76"><tspan class="sa" x="750">200</tspan><tspan class="sb" x="750" dy="13.5">79391</tspan><tspan class="sc" x="750" dy="13">35.62%</tspan></text>
<text class="s" y="76"><tspan class="sa" x="990">200</tspan><tspan class="sb" x="990" dy="13.5">81791</tspan><tspan class="sc" x="990" dy="13">23.12%</tspan></text>
</g>

<g id="row20" transform="translate(0,2884.5)">
<use href="#st4"/>
<use href="#n8" class="B" x="31.5" y="45"/><use href="#n8" class="G" x="271.5"/><use href="#n8" class="Y" x="511.5" y="30"/>
<use href="#s2" class="Y" x="751.5" y="30"/><use href="#s" class="R" x="811.5" y="15"/><use href="#s" class="G" x="841.5"/><use href="#s" class="Y" x="871.5" y="30"/><use href="#s" class="R" x="901.5" y="15"/><use href="#s" class="Y" x="931.5" y="30"/><use href="#s" class="B" x="961.5" y="45"/>
<rect class="ob" x="31.5" width="960" height="60"/><rect class="og" x="751.5" width="210" height="60"/>
<text class="tp" x="31" y="-20.5">♩=162</text><text class="tp" x="271" y="-20.5">♩=162</text><text class="tp" x="511" y="-20.5">♩=162</text><text class="tp" x="751" y="-20.5">♩=162</text>
<text class="mn" x="30.5" y="-8">77</text><text class="mn" x="270.5" y="-8">78</text><text class="mn" x="510.5" y="-8">79</text><text class="mn" x="750.5" y="-8">80</text>
<text class="s" y="76"><tspan class="sa" x="270">200</tspan><tspan class="sb" x="270" dy="13.5">84191</tspan><tspan class="sc" x="270" dy="13">10.62%</tspan></text>
<text class="s" y="76"><tspan class="sa" x="510">200</tspan><tspan class="sb" x="510" dy="13.5">86591</tspan><tspan class="sc" x="510" dy="13">0.00%</tspan></text>
<text class="s" y="76"><tspan class="sa" x="750">200</tspan><tspan class="sb" x="750" dy="13.5">88991</tspan><tspan class="sc" x="750" dy="13">0.00%</tspan></text>
<text class="s" y="76"><tspan class="sa" x="990">200</tspan><tspan class="sb" x="990" dy="13.5">91391</tspan><tspan class="sc" x="990" dy="13">23.44%</tspan></text>
</g>

<g id="row21" transform="translate(0,3025.5)">
<use href="#st4"/>
<use href="#n4" class="Y" x="31.5" y="30"/><use href="#n2" class="Y" x="151.5" y="30"/><use href="#n" class="Y" x="211.5" y="30"/>
<use href="#n" class="B" x="241.5" y="45"/><use href="#n8" class="O" x="271.5" y="60"/>
<use href="#n4" class="R" x="511.5" y="15"/><use href="#n2" class="R" x="631.5" y="15"/><use href="#n" class="R" x="691.5" y="15"/>
<use href="#n" class="Y" x="721.5" y="30"/>
<use href="#n4" class="B" x="751.5" y="45"/><use href="#n" class="B" x="871.5" y="45"/>
<use href="#n" class="Y" x="901.5" y="30"/><use href="#n" class="B" x="931.5" y="45"/><use href="#n" class="O" x="961.5" y="60"/>
<rect class="ob" x="31.5" width="443.5" height="60"/><rect class="op" x="475" width="6.5" height="60"/>
<text class="tp" x="31" y="-20.5">♩=162</text><text class="tp" x="271" y="-20.5">♩=162</text><text class="tp" x="511" y="-20.5">♩=162</text><text class="tp" x="751" y="-20.5">♩=161</text>
<text class="mn" x="30.5" y="-8">81</text><text class="mn" x="270.5" y="-8">82</text><text class="mn" x="510.5" y="-8">83</text><text class="mn" x="750.5" y="-8">84</text>
<text class="s" y="76"><tspan class="sa" x="270">200</tspan><tspan class="sb" x="270" dy="13.5">93791</tspan><tspan class="sc" x="270" dy="13">10.94%</tspan></text>
<text class="s" y="76"><tspan class="sa" x="510">200</tspan><tspan class="sb" x="510" dy="13.5">96191</tspan><tspan class="sc" x="510" dy="13">0.00%</tspan></text>
<text class="s" y="76"><tspan class="sa" x="750">200</tspan><tspan class="sb" x="750" dy="13.5">97391</tspan><tspan class="sc" x="750" dy="13">0.00%</tspan></text>
<text class="s" y="76"><tspan class="sa" x="990">200</tspan><tspan class="sb" x="990" dy="13.5">98591</tspan><tspan class="sc" x="990" dy="13">0.00%</tspan></text>
</g>

<g id="row22" transform="translate(0,3166.5)">
<use href="#st4"/>
<use href="#n8" class="Y" x="31.5" y="30"/><use href="#n8" class="G" x="271.5"/><use href="#n16" class="R" x="511.5" y="15"/>
<text class="tp" x="31" y="-20.5">♩=162</text><text class="tp" x="271" y="-20.5">♩=162</text><text class="tp" x="511" y="-20.5">♩=163</text><text class="tp" x="751" y="-20.5">♩=162</text>
<text class="mn" x="30.5" y="-8">85</text><text class="mn" x="270.5" y="-8">86</text><text class="mn" x="510.5" y="-8">87</text><text class="mn" x="750.5" y="-8">88</text>
<text class="s" y="76"><tspan class="sa" x="270">200</tspan><tspan class="sb" x="270" dy="13.5">99791</tspan><tspan class="sc" x="270" dy="13">0.00%</tspan></text>
<text class="s" y="76"><tspan class="sa" x="510">200</tspan><tspan class="sb" x="510" dy="13.5">100991</tspan><tspan class="sc" x="510" dy="13">0.00%</tspan></text>
<text class="s" y="76"><tspan class="sa" x="750">200</tspan><tspan class="sb" x="750" dy="13.5">102191</tspan><tspan class="sc" x="750" dy="13">0.00%</tspan></text>
<text class="s" y="76"><tspan class="sa" x="990">200</tspan><tspan class="sb" x="990" dy="13.5">103391</tspan><tspan class="sc" x="990" dy="13">0.00%</tspan></text>
</g>

<g id="row23" transform="translate(0,3307.5)">
<use href="#st4"/>
<text class="tp" x="271" y="-20.5">♩=162</text><text class="tp" x="751" y="-20.5">♩=163</text>
<text class="mn" x="30.5" y="-8">89</text><text class="mn" x="270.5" y="-8">90</text><text class="mn" x="510.5" y="-8">91</text><text class="mn" x="750.5" y="-8">92</text>
<text class="s" y="76"><tspan class="sa" x="270">0</tspan><tspan class="sb" x="270" dy="13.5">103391</tspan><tspan class="sc" x="270" dy="13">0.00%</tspan></text>
<text class="s" y="76"><tspan class="sa" x="510">0</tspan><tspan class="sb" x="510" dy="13.5">103391</tspan><tspan class="sc" x="510" dy="13">0.00%</tspan></text>
<text class="s" y="76"><tspan class="sa" x="750">0</tspan><tspan class="sb" x="750" dy="13.5">103391</tspan><tspan class="sc" x="750" dy="13">0.00%</tspan></text>
<text class="s" y="76"><tspan class="sa" x="990">0</tspan><tspan class="sb" x="990" dy="13.5">103391</tspan><tspan class="sc" x="990" dy="13">0.00%</tspan></text>
</g>

<g id="row24" transform="translate(0,3448.5)">
<use href="#st4"/>
<text class="tp" x="271" y="-20.5">♩=161</text><text class="tp" x="751" y="-20.5">♩=163</text>
<text class="mn" x="30.5" y="-8">93</text><text class="mn" x="270.5" y="-8">94</text><text class="mn" x="510.5" y="-8">95</text><text class="mn" x="750.5" y="-8">96</text>
<text class="s" y="76"><tspan class="sa" x="270">0</tspan><tspan class="sb" x="270" dy="13.5">103391</tspan><tspan class="sc" x="270" dy="13">0.00%</tspan></text>
<text class="s" y="76"><tspan class="sa" x="510">0</tspan><tspan class="sb" x="510" dy="13.5">103391</tspan><tspan class="sc" x="510" dy="13">0.00%</tspan></text>
<text class="s" y="76"><tspan class="sa" x="750">0</tspan><tspan class="sb" x="750" dy="13.5">103391</tspan><tspan class="sc" x="750" dy="13">0.00%</tspan></text>
<text class="s" y="76"><tspan class="sa" x="990">0</tspan><tspan class="sb" x="990" dy="13.5">103391</tspan><tspan class="sc" x="990" dy="13">0.00%</tspan></text>
</g>

<g id="row25" transform="translate(0,3589.5)">
<rect class="yb" x="31.5" y="-10" width="465" height="80"/>
<use href="#st4"/>
<rect class="Y" x="31.5" y="27" width="165" height="6"/><use href="#s" class="Y" x="31.5" y="30"/>
<use href="#s" class="B" x="211.5" y="45"/>
<rect class="O" x="241.5" y="57" width="255" height="6"/><use href="#s" class="O" x="241.5" y="60"/>
<rect class="R" x="511.5" y="12" width="120" height="6"/><use href="#n" class="R" x="511.5" y="15"/>
<use href="#n" class="R" x="721.5" y="15"/>
<use href="#n2" class="G" x="751.5"/><use href="#n" class="G" x="901.5"/><use href="#n" class="R" x="811.5" y="15"/>
<rect class="R" x="931.5" y="12" width="45" height="6"/><use href="#n" class="R" x="931.5" y="15"/>
<rect class="og" x="31.5" width="465" height="60"/><rect class="op" x="721.5" width="9.5" height="60"/><rect class="ob" x="731" width="260.5" height="60"/>
<text class="tp" x="271" y="-20.5">♩=162</text><text class="tp" x="751" y="-20.5">♩=163</text>
<text class="mn" x="30.5" y="-8">97</text><text class="mn" x="270.5" y="-8">98</text><text class="mn" x="510.5" y="-8">99</text><text class="mn" x="750.5" y="-8">100</text>
<text class="s" y="76"><tspan class="sa" x="270">114</tspan><tspan class="sb" x="270" dy="13.5">104075</tspan><tspan class="sc" x="270" dy="13">36.05%</tspan></text>
<text class="s" y="76"><tspan class="sa" x="510">45</tspan><tspan class="sb" x="510" dy="13.5">104345</tspan><tspan class="sc" x="510" dy="13">48.80%</tspan></text>
<text class="s" y="76"><tspan class="sa" x="750">74</tspan><tspan class="sb" x="750" dy="13.5">104939</tspan><tspan class="sc" x="750" dy="13">47.78%</tspan></text>
<text class="s" y="76"><tspan class="sa" x="990">134</tspan><tspan class="sb" x="990" dy="13.5">106547</tspan><tspan class="sc" x="990" dy="13">35.28%</tspan></text>
</g>

<g id="row26" transform="translate(0,3730.5)">
<use href="#st4"/>
<rect class="Y" x="31.5" y="27" width="195" height="6"/><use href="#n" class="Y" x="31.5" y="30"/>
<use href="#n" class="Y" x="241.5" y="30"/><use href="#n" class="Y" x="331.5" y="30"/>
<rect class="Y" x="451.5" y="27" width="45" height="6"/><use href="#n" class="Y" x="451.5" y="30"/>
<use href="#n2" class="G" x="271.5"/><use href="#n" class="G" x="421.5"/>
<rect class="R" x="511.5" y="12" width="195" height="6"/><use href="#n" class="R" x="511.5" y="15"/>
<use href="#n" class="B" x="721.5" y="45"/>
<rect class="O" x="731.5" y="57" width="65" height="6"/><use href="#n" class="O" x="731.5" y="60"/>
<rect class="B" x="811.5" y="42" width="75" height="6"/><use href="#n" class="B" x="811.5" y="45"/>
<rect class="Y" x="901.5" y="27" width="75" height="6"/><use href="#n" class="Y" x="901.5" y="30"/>
<rect class="ob" x="31.5" width="960" height="60"/>
<text class="tp" x="271" y="-20.5">♩=161</text><text class="tp" x="751" y="-20.5">♩=163</text>
<text class="mn" x="30.5" y="-8">101</text><text class="mn" x="270.5" y="-8">102</text><text class="mn" x="510.5" y="-8">103</text><text class="mn" x="750.5" y="-8">104</text>
<text class="s" y="76"><tspan class="sa" x="270">89</tspan><tspan class="sb" x="270" dy="13.5">107615</tspan><tspan class="sc" x="270" dy="13">22.78%</tspan></text>
<text class="s" y="76"><tspan class="sa" x="510">134</tspan><tspan class="sb" x="510" dy="13.5">109223</tspan><tspan class="sc" x="510" dy="13">10.28%</tspan></text>
<text class="s" y="76"><tspan class="sa" x="750">118</tspan><tspan class="sb" x="750" dy="13.5">110639</tspan><tspan class="sc" x="750" dy="13">0.00%</tspan></text>
<text class="s" y="76"><tspan class="sa" x="990">89</tspan><tspan class="sb" x="990" dy="13.5">111707</tspan><tspan class="sc" x="990" dy="13">0.00%</tspan></text>
</g>

<g id="row27" transform="translate(0,3871.5)">
<use href="#st4"/>
<rect class="R" x="31.5" y="12" width="165" height="6"/><use href="#n" class="R" x="31.5" y="15"/>
<use href="#n" class="B" x="211.5" y="45"/>
<rect class="O" x="241.5" y="57" width="255" height="6"/><use href="#n" class="O" x="241.5" y="60"/>
<rect class="R" x="511.5" y="12" width="120" height="6"/><use href="#n" class="R" x="511.5" y="15"/>
<use href="#n" class="R" x="721.5" y="15"/>
<use href="#s2" class="G" x="751.5"/><use href="#s" class="G" x="901.5"/><use href="#s" class="R" x="811.5" y="15"/>
<rect class="R" x="931.5" y="12" width="45" height="6"/><use href="#s" class="R" x="931.5" y="15"/>
<rect class="ob" x="31.5" width="196.5" height="60"/><rect class="op" x="228" width="13.5" height="60"/><rect class="og" x="751.5" width="225" height="60"/>
<text class="tp" x="271" y="-20.5">♩=161</text><text class="tp" x="751" y="-20.5">♩=163</text>
<text class="mn" x="30.5" y="-8">105</text><text class="mn" x="270.5" y="-8">106</text><text class="mn" x="510.5" y="-8">107</text><text class="mn" x="750.5" y="-8">108</text>
<text class="s" y="76"><tspan class="sa" x="270">114</tspan><tspan class="sb" x="270" dy="13.5">113039</tspan><tspan class="sc" x="270" dy="13">0.00%</tspan></text>
<text class="s" y="76"><tspan class="sa" x="510">45</tspan><tspan class="sb" x="510" dy="13.5">113309</tspan><tspan class="sc" x="510" dy="13">0.00%</tspan></text>
<text class="s" y="76"><tspan class="sa" x="750">74</tspan><tspan class="sb" x="750" dy="13.5">113753</tspan><tspan class="sc" x="750" dy="13">0.00%</tspan></text>
<text class="s" y="76"><tspan class="sa" x="990">134</tspan><tspan class="sb" x="990" dy="13.5">114557</tspan><tspan class="sc" x="990" dy="13">27.55%</tspan></text>
</g>

<g id="row28" transform="translate(0,4012.5)">
<use href="#st4"/>
<rect class="Y" x="31.5" y="27" width="120" height="6"/><use href="#n" class="Y" x="31.5" y="30"/>
<use href="#n" class="Y" x="241.5" y="30"/><use href="#n" class="Y" x="331.5" y="30"/>
<rect class="Y" x="451.5" y="27" width="45" height="6"/><use href="#n" class="Y" x="451.5" y="30"/>
<use href="#n2" class="G" x="271.5"/><use href="#n" class="G" x="421.5"/>
<rect class="R" x="511.5" y="12" width="195" height="6"/><use href="#n" class="R" x="511.5" y="15"/>
<use href="#n" class="R" x="721.5" y="15"/><use href="#n" class="Y" x="751.5" y="30"/><use href="#n" class="B" x="781.5" y="45"/>
<rect class="O" x="811.5" y="57" width="45" height="6"/><use href="#n" class="O" x="811.5" y="60"/>
<rect class="B" x="871.5" y="42" width="105" height="6"/><use href="#n" class="B" x="871.5" y="45"/>
<text class="tp" x="271" y="-20.5">♩=161</text><text class="tp" x="751" y="-20.5">♩=163</text>
<text class="mn" x="30.5" y="-8">109</text><text class="mn" x="270.5" y="-8">110</text><text class="mn" x="510.5" y="-8">111</text><text class="mn" x="750.5" y="-8">112</text>
<text class="s" y="76"><tspan class="sa" x="270">74</tspan><tspan class="sb" x="270" dy="13.5">115001</tspan><tspan class="sc" x="270" dy="13">27.55%</tspan></text>
<text class="s" y="76"><tspan class="sa" x="510">134</tspan><tspan class="sb" x="510" dy="13.5">115805</tspan><tspan class="sc" x="510" dy="13">27.55%</tspan></text>
<text class="s" y="76"><tspan class="sa" x="750">89</tspan><tspan class="sb" x="750" dy="13.5">116339</tspan><tspan class="sc" x="750" dy="13">27.55%</tspan></text>
<text class="s" y="76"><tspan class="sa" x="990">130</tspan><tspan class="sb" x="990" dy="13.5">117119</tspan><tspan class="sc" x="990" dy="13">27.55%</tspan></text>
</g>

<g id="row29" transform="translate(0,4153.5)">
<use href="#st4"/>
<rect class="G" x="31.5" y="-3" width="945" height="6"/><use href="#n" class="G" x="31.5"/>
<text class="tp" x="751" y="-20.5">♩=159</text>
<text class="mn" x="30.5" y="-8">113</text><text class="mn" x="270.5" y="-8">114</text><text class="mn" x="510.5" y="-8">115</text><text class="mn" x="750.5" y="-8">116</text>
<text class="s" y="76"><tspan class="sa" x="270">73</tspan><tspan class="sb" x="270" dy="13.5">117557</tspan><tspan class="sc" x="270" dy="13">27.55%</tspan></text>
<text class="s" y="76"><tspan class="sa" x="510">48</tspan><tspan class="sb" x="510" dy="13.5">117845</tspan><tspan class="sc" x="510" dy="13">27.55%</tspan></text>
<text class="s" y="76"><tspan class="sa" x="750">48</tspan><tspan class="sb" x="750" dy="13.5">118133</tspan><tspan class="sc" x="750" dy="13">27.55%</tspan></text>
<text class="s" y="76"><tspan class="sa" x="990">45</tspan><tspan class="sb" x="990" dy="13.5">118403</tspan><tspan class="sc" x="990" dy="13">27.55%</tspan></text>
</g>

<g id="row30" transform="translate(0,4294.5)">
<use href="#st4"/>
<use href="#n8" class="G" x="31.5"/><use href="#n4" class="G" x="271.5"/><use href="#n2" class="G" x="391.5"/><use href="#n" class="G" x="451.5"/>
<use href="#n" class="B" x="481.5" y="45"/><use href="#n8" class="O" x="511.5" y="60"/>
<use href="#n" class="G" x="751.5"/><use href="#n" class="Y" x="781.5" y="30"/><use href="#n" class="R" x="811.5" y="15"/><use href="#n" class="G" x="841.5"/><use href="#n" class="Y" x="871.5" y="30"/><use href="#n" class="R" x="901.5" y="15"/><use href="#n" class="Y" x="931.5" y="30"/><use href="#n" class="B" x="961.5" y="45"/>
<text class="tp" x="31" y="-20.5">♩=163</text><text class="tp" x="271" y="-20.5">♩=162</text><text class="tp" x="511" y="-20.5">♩=162</text><text class="tp" x="751" y="-20.5">♩=162</text>
<text class="mn" x="30.5" y="-8">117</text><text class="mn" x="270.5" y="-8">118</text><text class="mn" x="510.5" y="-8">119</text><text class="mn" x="750.5" y="-8">120</text>
<text class="s" y="76"><tspan class="sa" x="270">200</tspan><tspan class="sb" x="270" dy="13.5">119603</tspan><tspan class="sc" x="270" dy="13">27.55%</tspan></text>
<text class="s" y="76"><tspan class="sa" x="510">200</tspan><tspan class="sb" x="510" dy="13.5">120803</tspan><tspan class="sc" x="510" dy="13">27.55%</tspan></text>
<text class="s" y="76"><tspan class="sa" x="750">200</tspan><tspan class="sb" x="750" dy="13.5">122003</tspan><tspan class="sc" x="750" dy="13">27.55%</tspan></text>
<text class="s" y="76"><tspan class="sa" x="990">200</tspan><tspan class="sb" x="990" dy="13.5">123203</tspan><tspan class="sc" x="990" dy="13">27.55%</tspan></text>
</g>

<g id="row31" transform="translate(0,4435.5)">
<use href="#st4"/>
<text class="tp" x="751" y="-20.5">♩=163</text>
<text class="mn" x="30.5" y="-8">121</text><text class="mn" x="270.5" y="-8">122</text><text class="mn" x="510.5" y="-8">123</text><text class="mn" x="750.5" y="-8">124</text>
<text class="s" y="76"><tspan class="sa" x="270">0</tspan><tspan class="sb" x="270" dy="13.5">123203</tspan><tspan class="sc" x="270" dy="13">27.55%</tspan></text>
<text class="s" y="76"><tspan class="sa" x="510">0</tspan><tspan class="sb" x="510" dy="13.5">123203</tspan><tspan class="sc" x="510" dy="13">27.55%</tspan></text>
<text class="s" y="76"><tspan class="sa" x="750">0</tspan><tspan class="sb" x="750" dy="13.5">123203</tspan><tspan class="sc" x="750" dy="13">27.55%</tspan></text>
<text class="s" y="76"><tspan class="sa" x="990">0</tspan><tspan class="sb" x="990" dy="13.5">123203</tspan><tspan class="sc" x="990" dy="13">27.55%</tspan></text>
</g>

<g id="row32" transform="translate(0,4576.5)">
<rect class="yb" x="31.5" y="-10" width="210" height="80"/>
<use href="#st4"/>
<use href="#s8" class="B" x="31.5" y="45"/>
<use href="#n4" class="G" x="271.5"/><use href="#n2" class="G" x="391.5"/><use href="#n" class="G" x="451.5"/><use href="#n" class="G" x="466.5"/><use href="#n" class="G" x="481.5"/>
<use href="#n4" class="Y" x="511.5" y="30"/><use href="#n2" class="Y" x="631.5" y="30"/><use href="#n" class="Y" x="691.5" y="30"/>
<use href="#n" class="O" x="721.5" y="60"/>
<use href="#n4" class="Y" x="751.5" y="30"/><use href="#n2" class="Y" x="871.5" y="30"/><use href="#n" class="Y" x="931.5" y="30"/>
<use href="#n" class="B" x="961.5" y="45"/>
<rect class="og" x="31.5" width="210" height="60"/><rect class="op" x="661.5" width="3.5" height="60"/><rect class="ob" x="665" width="326.5" height="60"/>
<text class="tp" x="31" y="-20.5">♩=162</text><text class="tp" x="271" y="-20.5">♩=162</text><text class="tp" x="511" y="-20.5">♩=162</text><text class="tp" x="751" y="-20.5">♩=162</text>
<text class="mn" x="30.5" y="-8">125</text><text class="mn" x="270.5" y="-8">126</text><text class="mn" x="510.5" y="-8">127</text><text class="mn" x="750.5" y="-8">128</text>
<text class="s" y="76"><tspan class="sa" x="270">200</tspan><tspan class="sb" x="270" dy="13.5">124403</tspan><tspan class="sc" x="270" dy="13">52.55%</tspan></text>
<text class="s" y="76"><tspan class="sa" x="510">225</tspan><tspan class="sb" x="510" dy="13.5">125753</tspan><tspan class="sc" x="510" dy="13">52.55%</tspan></text>
<text class="s" y="76"><tspan class="sa" x="750">200</tspan><tspan class="sb" x="750" dy="13.5">127403</tspan><tspan class="sc" x="750" dy="13">48.12%</tspan></text>
<text class="s" y="76"><tspan class="sa" x="990">200</tspan><tspan class="sb" x="990" dy="13.5">129803</tspan><tspan class="sc" x="990" dy="13">35.62%</tspan></text>
</g>

<g id="row33" transform="translate(0,4717.5)">
<use href="#st4"/>
<use href="#n4" class="R" x="31.5" y="15"/><use href="#n2" class="R" x="151.5" y="15"/><use href="#n" class="R" x="211.5" y="15"/>
<use href="#n" class="Y" x="241.5" y="30"/>
<use href="#n4" class="B" x="271.5" y="45"/><use href="#n2" class="B" x="391.5" y="45"/><use href="#n" class="B" x="451.5" y="45"/>
<use href="#n" class="O" x="481.5" y="60"/>
<use href="#n4" class="R" x="511.5" y="15"/><use href="#n2" class="R" x="631.5" y="15"/><use href="#n" class="R" x="691.5" y="15"/>
<use href="#n" class="Y" x="721.5" y="30"/>
<use href="#n2" class="B" x="751.5" y="45"/><use href="#n" class="B" x="811.5" y="45"/><use href="#n" class="O" x="841.5" y="60"/><use href="#n" class="B" x="871.5" y="45"/><use href="#n" class="Y" x="901.5" y="30"/><use href="#n2" class="R" x="931.5" y="15"/>
<rect class="ob" x="31.5" width="960" height="60"/>
<text class="tp" x="31" y="-20.5">♩=161</text><text class="tp" x="271" y="-20.5">♩=163</text><text class="tp" x="751" y="-20.5">♩=161</text>
<text class="mn" x="30.5" y="-8">129</text><text class="mn" x="270.5" y="-8">130</text><text class="mn" x="510.5" y="-8">131</text><text class="mn" x="750.5" y="-8">132</text>
<text class="s" y="76"><tspan class="sa" x="270">200</tspan><tspan class="sb" x="270" dy="13.5">132203</tspan><tspan class="sc" x="270" dy="13">23.12%</tspan></text>
<text class="s" y="76"><tspan class="sa" x="510">200</tspan><tspan class="sb" x="510" dy="13.5">134603</tspan><tspan class="sc" x="510" dy="13">10.62%</tspan></text>
<text class="s" y="76"><tspan class="sa" x="750">200</tspan><tspan class="sb" x="750" dy="13.5">137003</tspan><tspan class="sc" x="750" dy="13">0.00%</tspan></text>
<text class="s" y="76"><tspan class="sa" x="990">200</tspan><tspan class="sb" x="990" dy="13.5">139403</tspan><tspan class="sc" x="990" dy="13">0.00%</tspan></text>
</g>

<g id="row34" transform="translate(0,4858.5)">
<use href="#st4"/>
<use href="#s8" class="B" x="31.5" y="45"/>
<use href="#n4" class="G" x="271.5"/><use href="#n2" class="G" x="391.5"/>
<use href="#n2" class="Y" x="451.5" y="30"/>
<use href="#n4" class="R" x="511.5" y="15"/><use href="#n2" class="R" x="631.5" y="15"/><use href="#n" class="R" x="691.5" y="15"/>
<use href="#n" class="Y" x="721.5" y="30"/>
<use href="#n4" class="B" x="751.5" y="45"/><use href="#n" class="B" x="871.5" y="45"/>
<use href="#n" class="O" x="901.5" y="60"/>
<rect class="Y" x="931.5" y="27" width="45" height="6"/><use href="#n" class="Y" x="931.5" y="30"/>
<rect class="og" x="31.5" width="210" height="60"/><rect class="ob" x="31.5" width="685" height="60"/><rect class="op" x="716.5" width="5" height="60"/>
<text class="tp" x="31" y="-20.5">♩=161</text><text class="tp" x="271" y="-20.5">♩=162</text><text class="tp" x="511" y="-20.5">♩=162</text><text class="tp" x="751" y="-20.5">♩=163</text>
<text class="mn" x="30.5" y="-8">133</text><text class="mn" x="270.5" y="-8">134</text><text class="mn" x="510.5" y="-8">135</text><text class="mn" x="750.5" y="-8">136</text>
<text class="s" y="76"><tspan class="sa" x="270">200</tspan><tspan class="sb" x="270" dy="13.5">141803</tspan><tspan class="sc" x="270" dy="13">23.44%</tspan></text>
<text class="s" y="76"><tspan class="sa" x="510">200</tspan><tspan class="sb" x="510" dy="13.5">144203</tspan><tspan class="sc" x="510" dy="13">10.94%</tspan></text>
<text class="s" y="76"><tspan class="sa" x="750">200</tspan><tspan class="sb" x="750" dy="13.5">146603</tspan><tspan class="sc" x="750" dy="13">0.00%</tspan></text>
<text class="s" y="76"><tspan class="sa" x="990">184</tspan><tspan class="sb" x="990" dy="13.5">147707</tspan><tspan class="sc" x="990" dy="13">0.00%</tspan></text>
</g>

<g id="row35" transform="translate(0,4999.5)">
<use href="#st4"/>
<use href="#n2" class="R" x="31.5" y="15"/><use href="#n" class="G" x="241.5"/><use href="#n" class="R" x="271.5" y="15"/><use href="#n2" class="Y" x="271.5" y="30"/>
<use href="#n2" class="G" x="511.5"/>
<rect class="G" x="781.5" y="-3" width="105" height="6"/><use href="#n" class="G" x="781.5"/>
<rect class="G" x="901.5" y="-3" width="75" height="6"/><use href="#n" class="G" x="901.5"/>
<text class="tp" x="31" y="-20.5">♩=161</text><text class="tp" x="271" y="-20.5">♩=163</text><text class="tp" x="511" y="-20.5">♩=162</text><text class="tp" x="751" y="-20.5">♩=163</text>
<text class="mn" x="30.5" y="-8">137</text><text class="mn" x="270.5" y="-8">138</text><text class="mn" x="510.5" y="-8">139</text><text class="mn" x="750.5" y="-8">140</text>
<text class="s" y="76"><tspan class="sa" x="270">75</tspan><tspan class="sb" x="270" dy="13.5">148157</tspan><tspan class="sc" x="270" dy="13">0.00%</tspan></text>
<text class="s" y="76"><tspan class="sa" x="510">75</tspan><tspan class="sb" x="510" dy="13.5">148607</tspan><tspan class="sc" x="510" dy="13">0.00%</tspan></text>
<text class="s" y="76"><tspan class="sa" x="750">50</tspan><tspan class="sb" x="750" dy="13.5">148907</tspan><tspan class="sc" x="750" dy="13">0.00%</tspan></text>
<text class="s" y="76"><tspan class="sa" x="990">86</tspan><tspan class="sb" x="990" dy="13.5">149423</tspan><tspan class="sc" x="990" dy="13">0.00%</tspan></text>
</g>

<g id="row36" transform="translate(0,5140.5)">
<use href="#st4"/>
<use href="#n2" class="R" x="31.5" y="15"/><use href="#n" class="R" x="241.5" y="15"/><use href="#n2" class="Y" x="271.5" y="30"/>
<use href="#n" class="O" x="421.5" y="60"/><use href="#n" class="B" x="451.5" y="45"/><use href="#n" class="Y" x="481.5" y="30"/>
<rect class="G" x="511.5" y="-3" width="75" height="6"/><use href="#n" class="G" x="511.5"/>
<rect class="G" x="601.5" y="-3" width="75" height="6"/><use href="#n" class="G" x="601.5"/>
<rect class="G" x="691.5" y="-3" width="300" height="6"/><use href="#n" class="G" x="691.5"/>
<text class="tp" x="31" y="-20.5">♩=161</text><text class="tp" x="271" y="-20.5">♩=162</text>
<text class="mn" x="30.5" y="-8">141</text><text class="mn" x="270.5" y="-8">142</text><text class="mn" x="510.5" y="-8">143</text><text class="mn" x="750.5" y="-8">144</text>
<text class="s" y="76"><tspan class="sa" x="270">75</tspan><tspan class="sb" x="270" dy="13.5">149873</tspan><tspan class="sc" x="270" dy="13">0.00%</tspan></text>
<text class="s" y="76"><tspan class="sa" x="510">125</tspan><tspan class="sb" x="510" dy="13.5">150623</tspan><tspan class="sc" x="510" dy="13">0.00%</tspan></text>
<text class="s" y="76"><tspan class="sa" x="750">117</tspan><tspan class="sb" x="750" dy="13.5">151325</tspan><tspan class="sc" x="750" dy="13">0.00%</tspan></text>
<text class="s" y="76"><tspan class="sa" x="990">48</tspan><tspan class="sb" x="990" dy="13.5">151613</tspan><tspan class="sc" x="990" dy="13">0.00%</tspan></text>
</g>

<g id="row37" transform="translate(0,5281.5)">
<use href="#st4"/>
<rect class="G" x="31.5" y="-3" width="960" height="6"/>
<text class="mn" x="30.5" y="-8">145</text><text class="mn" x="270.5" y="-8">146</text><text class="mn" x="510.5" y="-8">147</text><text class="mn" x="750.5" y="-8">148</text>
<text class="s" y="76"><tspan class="sa" x="270">48</tspan><tspan class="sb" x="270" dy="13.5">151901</tspan><tspan class="sc" x="270" dy="13">0.00%</tspan></text>
<text class="s" y="76"><tspan class="sa" x="510">48</tspan><tspan class="sb" x="510" dy="13.5">152189</tspan><tspan class="sc" x="510" dy="13">0.00%</tspan></text>
<text class="s" y="76"><tspan class="sa" x="750">48</tspan><tspan class="sb" x="750" dy="13.5">152477</tspan><tspan class="sc" x="750" dy="13">0.00%</tspan></text>
<text class="s" y="76"><tspan class="sa" x="990">48</tspan><tspan class="sb" x="990" dy="13.5">152765</tspan><tspan class="sc" x="990" dy="13">0.00%</tspan></text>
</g>

<g id="row38" transform="translate(0,5422.5)">
<use href="#st3"/>
<rect class="G" x="31.5" y="-3" width="630" height="6"/>
<text class="mn" x="30.5" y="-8">149</text><text class="mn" x="270.5" y="-8">150</text><text class="mn" x="510.5" y="-8">151</text>
<text class="s" y="76"><tspan class="sa" x="270">48</tspan><tspan class="sb" x="270" dy="13.5">153053</tspan><tspan class="sc" x="270" dy="13">0.00%</tspan></text>
<text class="s" y="76"><tspan class="sa" x="510">48</tspan><tspan class="sb" x="510" dy="13.5">153341</tspan><tspan class="sc" x="510" dy="13">0.00%</tspan></text>
<text class="s" y="76"><tspan class="sa" x="750">30</tspan><tspan class="sb" x="750" dy="13.5">153521</tspan><tspan class="sc" x="750" dy="13">0.00%</tspan></text>
</g>
</svg>
